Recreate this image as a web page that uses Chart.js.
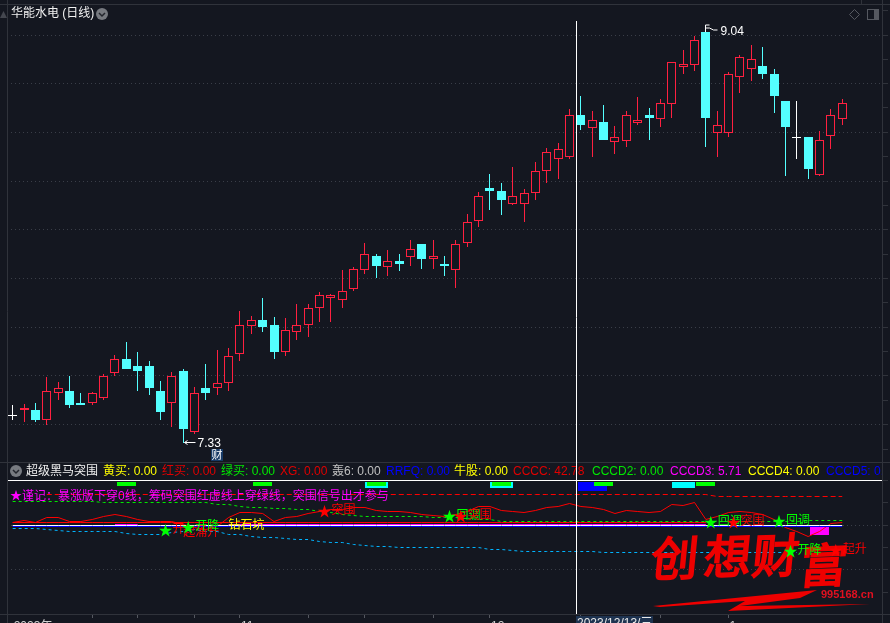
<!DOCTYPE html>
<html>
<head>
<meta charset="utf-8">
<script src="https://cdn.jsdelivr.net/npm/chart.js@4"></script>
<style>
  html, body { margin: 0; padding: 0; background: #141720; overflow: hidden; }
  canvas { display: block; }
</style>
</head>
<body>
<canvas id="chart" width="890" height="623"></canvas>
<script>
// candles, first entry is the white doji at the far left
const opens = [7.446,7.466,7.466,7.424,7.536,7.545,7.496,7.495,7.516,7.620,7.678,7.650,7.650,7.545,7.495,7.629,7.374,7.557,7.557,7.578,7.699,7.818,7.841,7.820,7.707,7.790,7.819,7.890,7.931,7.923,7.971,8.050,8.107,8.063,8.087,8.104,8.157,8.094,8.074,8.050,8.163,8.254,8.390,8.378,8.325,8.325,8.368,8.460,8.509,8.517,8.694,8.641,8.665,8.580,8.587,8.662,8.694,8.678,8.741,8.895,8.903,9.039,8.620,8.620,8.853,8.884,8.897,8.864,8.752,8.601,8.602,8.445,8.608,8.678];
const closes = [7.446,7.474,7.427,7.545,7.557,7.489,7.489,7.536,7.607,7.678,7.639,7.630,7.560,7.460,7.607,7.389,7.536,7.539,7.578,7.690,7.819,7.840,7.812,7.709,7.798,7.819,7.890,7.944,7.944,7.961,8.052,8.114,8.066,8.085,8.074,8.135,8.095,8.106,8.066,8.156,8.247,8.356,8.378,8.340,8.356,8.368,8.460,8.539,8.551,8.694,8.652,8.672,8.590,8.601,8.692,8.672,8.681,8.742,8.913,8.904,9.004,8.681,8.651,8.863,8.934,8.925,8.864,8.773,8.644,8.601,8.469,8.588,8.692,8.742];
const highs = [7.488,7.492,7.496,7.604,7.583,7.608,7.538,7.542,7.617,7.696,7.750,7.708,7.671,7.588,7.625,7.637,7.563,7.658,7.716,7.725,7.879,7.858,7.933,7.854,7.850,7.908,7.908,7.958,7.949,8.049,8.062,8.161,8.116,8.132,8.116,8.174,8.157,8.174,8.107,8.174,8.282,8.373,8.448,8.411,8.477,8.386,8.498,8.556,8.577,8.717,8.773,8.710,8.735,8.648,8.710,8.769,8.723,8.760,8.914,8.964,9.022,9.04,8.710,8.872,8.943,8.985,8.976,8.885,8.752,8.752,8.602,8.627,8.719,8.760];
const lows = [7.426,7.418,7.418,7.406,7.509,7.477,7.489,7.489,7.510,7.608,7.639,7.546,7.529,7.426,7.398,7.33,7.368,7.509,7.529,7.546,7.672,7.784,7.791,7.679,7.692,7.758,7.772,7.834,7.834,7.892,7.962,8.033,8.016,8.024,8.045,8.066,8.053,8.053,8.024,7.974,8.145,8.228,8.299,8.278,8.319,8.249,8.340,8.411,8.428,8.511,8.631,8.519,8.590,8.532,8.561,8.652,8.590,8.644,8.681,8.864,8.877,8.561,8.519,8.602,8.785,8.835,8.843,8.702,8.440,8.511,8.428,8.440,8.552,8.652];

// indicator lines, one value per slot
const curveRed = [5.2,10.3,5.2,17,17.5,7.4,8.1,11.9,20.8,24.2,18.6,14.1,9.6,7.4,7.4,0.7,-6,-10.5,-3.8,16.4,27.6,28.7,26.4,9.6,16.4,20.8,26.4,30.2,34.3,36.5,39.9,40.3,33.2,30.9,29.8,28.2,23.5,21.5,19.7,25.3,30.9,41,42.1,33.2,29.8,28.2,33.2,39.4,41.4,48.8,41.7,39.2,34.3,26.4,33.2,30.9,29.3,30.9,46.6,43.9,51.5,11.9,20.8,27.6,30.5,28.7,23.1,11.9,-6,-12.8,-24,-15,4,5.8];
const dashGreen = [53.3,53.3,53.3,53.3,53.3,53.3,53.3,53.3,50,50,50,50,50,50,50,50,50,50,47.7,45.5,42.1,39.9,38.8,37.6,37.6,36.5,34.3,29.8,27.6,24.2,21.5,20.8,20.4,19.7,19.3,18.6,18.6,17.5,17,16.4,15.2,14.1,11.9,9.6,9,9,9,9,9,9,9,9,9,9,9,9,7.4,7.4,7.4,7.4,7.4,7.4,8.5,8.5,8.5,8.5,8.5,8.5,8.5,8.5,10.3,10.3,10.3,10.3];
const dashCyan = [-6.7,-7.2,-7.6,-8.3,-11.6,-12.8,-12.8,-12.8,-12.8,-15,-18.4,-19.5,-19.5,-19.5,-17.2,-13.9,-10.5,-12.8,-15,-19.5,-21.7,-26.2,-27.3,-28.4,-29.6,-30.7,-32.9,-35.2,-38.1,-39.6,-41.9,-45.2,-47.5,-48.6,-49.3,-49.7,-49.7,-49.7,-49.7,-50.8,-50.8,-50.8,-53.1,-55.3,-56.4,-57.6,-57.6,-57.6,-58.7,-59.1,-59.1,-59.8,-60.9,-61.4,-61.4,-61.4,-61.4,-61.4,-61.4,-61.4,-61.4,-61.4,-61.4,-61.4,-61.4,-61.4,-61.4,-61.4,-61.4,-61.4];
const dashRed = [null,null,null,67.9,67.9,67.9,67.9,67.9,67.9,67.9,67.9,67.9,67.9,67.9,67.9,67.9,67.9,67.9,67.9,67.9,67.9,67.9,67.9,67.9,67.9,67.9,67.9,67.9,67.9,67.9,67.9,67.9,67.9,67.9,67.9,67.9,67.9,67.9,67.9,67.9,67.9,67.9,67.9,67.9,67.9,67.9,67.9,67.9,67.9,67.9,67.9,67.9,67.9,67.9,67.9,67.9,67.9,67.9,67.9,67.9,67.9,67.9,65.6,65.6,65.6,65.6,65.6,65.6,65.6,64.5,64,64,64,65];
const flatRed = [5.8,5.8,5.8,5.8,5.8,5.8,5.8,5.8,5.8,5.8,5.8,5.8,5.8,5.8,5.8,5.8,5.8,5.8,5.8,5.8,5.8,5.8,5.8,5.8,5.8,5.8,5.8,5.8,5.8,5.8,5.8,5.8,5.8,5.8,5.8,5.8,5.8,5.8,5.8,5.8,5.8,5.8,5.8,5.8,5.8,5.8,5.8,5.8,5.8,5.8,5.8,5.8,5.8,5.8,5.8,5.8,5.8,5.8,5.8,5.8,5.8,5.8];
const flatMagenta = [null,null,null,null,null,null,null,null,null,2.9,2.9,2.9,null,null,null,null,null,null,null,2.9,2.9,2.9,2.9,2.9,2.9,2.9,2.9,2.9,2.9,2.9,2.9,2.9,2.9,2.9,2.9,2.9,2.9,2.9,2.9,2.9,2.9,2.9,2.9,2.9,2.9,2.9,2.9,2.9,2.9,2.9,2.9,2.9,2.9,2.9,2.9,2.9,2.9,2.9,2.9,2.9,2.9,2.9];
const flatWhite = [0,0,0,0,0,0,0,0,0,0,0,0,0,0,0,0,0,0,0,0,0,0,0,0,0,0,0,0,0,0,0,0,0,0,0,0,0,0,0,0,0,0,0,0,0,0,0,0,0,0,0,0,0,0,0,0,0,0,0,0,0,0,0,0,0,0,0,0,0,0,0,0,0,0];
const flatBlue = [-2.7,-2.7,-2.7,-2.7,-2.7,-2.7,-2.7,-2.7,-2.7,-2.7,-2.7,-2.7,-2.7,-2.7,-2.7,-2.7,-2.7,-2.7,-2.7,-2.7,-2.7,-2.7,-2.7,-2.7,-2.7,-2.7,-2.7,-2.7,-2.7,-2.7,-2.7,-2.7,-2.7,-2.7,-2.7,-2.7,-2.7,-2.7,-2.7,-2.7,-2.7,-2.7,-2.7,-2.7,-2.7,-2.7,-2.7,-2.7,-2.7,-2.7,-2.7,-2.7,-2.7,-2.7,-2.7,-2.7,-2.7,-2.7,-2.7,-2.7,-2.7,-2.7,-2.7,-2.7,-2.7,-2.7,-2.7,-2.7,-2.7,-2.7,-2.7,-2.7,-2.7,-2.7];

// signal tags along the top of the sub panel
const greenTagSlots = [10, 22, 32, 43, 52, 61];
const greenTagRange = [97, 88.7];
const cyanTagSlots = [32, 43, 59];
const cyanTagRange = [97, 84.2];
const blueTagSlots = [51];
const blueTagRange = [97, 77.5];
const magentaTagSlots = [71];
const magentaTagRange = [-3.8, -21.7];

// star labels in the sub panel
const signalSlots = [13, 15, 15, 19, 27, 38, 39, 61, 63, 67, 68, 72];
const signalValues = [-10.5, -17.2, -3.8, -1.6, 32, 20.8, 20.8, 8.1, 8.1, 10.8, -56.9, -55.3];
const signalStars = ['#00ff00', null, '#00ff00', null, '#ff0000', '#00ff00', '#ff0000', '#00ff00', '#ff0000', '#00ff00', '#00ff00', '#ff0000'];
const signalTexts = ['开', '起涌升', '开降', '钻石坑', '突围', '回调', '突围', '回调', '突围', '回调', '开降', '起升'];
const signalColors = ['#ff0000', '#ff0000', '#00ff00', '#ffff00', '#ff0000', '#00ff00', '#ff0000', '#00ff00', '#ff0000', '#00ff00', '#00ff00', '#ff0000'];

// header row of the sub panel
const headerTexts = ['黄买: 0.00', '红买: 0.00', '绿买: 0.00', 'XG: 0.00', '轰6: 0.00', 'RRFQ: 0.00', '牛股: 0.00', 'CCCC: 42.78', 'CCCD2: 0.00', 'CCCD3: 5.71', 'CCCD4: 0.00', 'CCCD5: 0.00'];
const headerColors = ['#ffff00', '#e00000', '#00e800', '#e00000', '#c0c0c0', '#0000ff', '#ffff00', '#e00000', '#00e800', '#ff00ff', '#ffff00', '#0000ff'];
const headerStarts = [103, 162, 221, 280, 332, 386, 454, 513, 592, 670, 748, 826];

// axes
const slotCount = 77;
const monthTicks = { 0: '2023年', 20: '11', 42: '12', 63: '1' };
const xTickSlots = [7, 11, 16, 20, 26, 31, 37, 42, 50, 57, 63];
const priceTicks = [9.127, 9.026, 8.925, 8.824, 8.723, 8.621, 8.520, 8.419, 8.318, 8.216, 8.115, 8.014, 7.913, 7.811, 7.710, 7.609, 7.508, 7.406, 7.305];
const priceGrid = [9.026, 8.824, 8.621, 8.419, 8.216, 8.014, 7.811, 7.609, 7.406];
const subTicks = [100, 50, 0, -50, -100, -150];
const subGrid = [0, -100];
const cursorSlot = 49.63;
const cursorLabel = '2023/12/13/三';

const RED = '#ff2040';
const CYAN = '#54ffff';
const BG = '#141720';
const FRAME = '#30333b';
const GRID = '#3a3e48';
const FONT = '"Liberation Sans","Noto Sans CJK SC",sans-serif';

const slots = Array.from({ length: slotCount }, (_, s) => s);
const candleColor = (i) => (opens[i] === closes[i] ? '#ffffff' : closes[i] > opens[i] ? RED : CYAN);
const tagData = (tagSlots, range) => slots.map((s) => (tagSlots.includes(s) ? range : null));

function lineSet(data, color, dash, order) {
    return {
        type: 'line',
        data,
        yAxisID: 'y2',
        borderColor: color,
        borderWidth: 1,
        borderDash: dash,
        pointRadius: 0,
        fill: false,
        order,
    };
}

function tagSet(tagSlots, range, color, width, order) {
    return {
        data: tagData(tagSlots, range),
        yAxisID: 'y2',
        grouped: false,
        barThickness: width,
        backgroundColor: color,
        borderWidth: 0,
        inflateAmount: 0,
        order,
    };
}

// pixel snap so the candles stay crisp like the terminal's drawing
const snapPlugin = {
    id: 'snap',
    beforeDatasetsDraw(chart) {
        chart.getSortedVisibleDatasetMetas().forEach((meta) => {
            meta.data.forEach((el) => {
                if (meta.type === 'bar') {
                    if (el.skip || isNaN(el.y)) return;
                    el.x = Math.floor(el.x) + 0.5;
                    const top = Math.round(Math.min(el.y, el.base));
                    let bottom = Math.round(Math.max(el.y, el.base));
                    if (bottom === top) bottom = top + 1;
                    el.y = top;
                    el.base = bottom;
                } else if (!el.skip) {
                    el.y = Math.floor(el.y) + 0.5;
                }
            });
        });
    },
};

function hline(ctx, x1, x2, y, color) {
    ctx.strokeStyle = color;
    ctx.lineWidth = 1;
    ctx.beginPath();
    ctx.moveTo(x1, y + 0.5);
    ctx.lineTo(x2, y + 0.5);
    ctx.stroke();
}

function vline(ctx, x, y1, y2, color) {
    ctx.strokeStyle = color;
    ctx.lineWidth = 1;
    ctx.beginPath();
    ctx.moveTo(x + 0.5, y1);
    ctx.lineTo(x + 0.5, y2);
    ctx.stroke();
}

function chevron(ctx, x, y) {
    ctx.fillStyle = '#777a80';
    ctx.beginPath();
    ctx.arc(x, y, 6, 0, Math.PI * 2);
    ctx.fill();
    ctx.strokeStyle = '#22252c';
    ctx.lineWidth = 1.5;
    ctx.beginPath();
    ctx.moveTo(x - 3, y - 1);
    ctx.lineTo(x, y + 2);
    ctx.lineTo(x + 3, y - 1);
    ctx.stroke();
}

function label(ctx, text, x, y, color, font) {
    ctx.font = font || '12px ' + FONT;
    ctx.fillStyle = color;
    ctx.textAlign = 'left';
    ctx.textBaseline = 'middle';
    ctx.fillText(text, x, y);
}

const decorPlugin = {
    id: 'decor',
    beforeDatasetsDraw(chart) {
        const ctx = chart.ctx;
        ctx.save();
        hline(ctx, 0, 890, 4, FRAME);
        hline(ctx, 0, 890, 462, FRAME);
        hline(ctx, 0, 890, 614, FRAME);
        vline(ctx, 7, 0, 623, FRAME);
        vline(ctx, 861, 0, 4, FRAME);
        vline(ctx, 882, 0, 623, FRAME);
        ctx.restore();
    },
    afterDatasetsDraw(chart) {
        const ctx = chart.ctx;
        const { x, y, y2 } = chart.scales;
        ctx.save();

        // watermark
        ctx.fillStyle = '#ee0000';
        ctx.strokeStyle = '#ee0000';
        ctx.lineWidth = 2;
        ctx.font = '47px "Noto Sans CJK SC"';
        ctx.textAlign = 'center';
        ctx.textBaseline = 'middle';
        [['创', 675, 558], ['想', 728, 556], ['财', 776, 555], ['富', 824, 565]].forEach(([c, cx, cy]) => {
            ctx.save();
            ctx.transform(1, -0.04, -0.1, 1, cx, cy);
            ctx.fillText(c, 0, 0);
            ctx.strokeText(c, 0, 0);
            ctx.restore();
        });
        ctx.beginPath();
        ctx.moveTo(653, 606);
        ctx.lineTo(817, 590);
        ctx.lineTo(800, 598);
        ctx.lineTo(740, 606);
        ctx.lineTo(870, 604);
        ctx.lineTo(728, 611);
        ctx.lineTo(745, 601);
        ctx.lineTo(660, 607);
        ctx.closePath();
        ctx.fill();
        label(ctx, '995168.cn', 821, 595, '#e01020', 'bold 11px "Liberation Sans"');

        // star labels
        signalSlots.forEach((s, i) => {
            const px = x.getPixelForValue(s);
            const py = y2.getPixelForValue(signalValues[i]);
            if (signalStars[i]) {
                label(ctx, '★', px - 2, py, signalStars[i], '14px "Noto Sans CJK SC"');
                label(ctx, signalTexts[i], px + 12, py, signalColors[i]);
            } else {
                label(ctx, signalTexts[i], px, py, signalColors[i]);
            }
        });
        label(ctx, '★谨记：暴涨版下穿0线，筹码突围红虚线上穿绿线，突围信号出才参与', 10, 497, '#ff00ff');

        // header rows
        hline(ctx, 8, 882, 480, '#ffffff');
        label(ctx, '华能水电 (日线)', 11, 14, '#f0f0f0');
        chevron(ctx, 102, 14);
        chevron(ctx, 16, 471);
        label(ctx, '超级黑马突围', 26, 472, '#f0f0f0');
        ctx.save();
        ctx.beginPath();
        ctx.rect(8, 463, 874, 16);
        ctx.clip();
        headerTexts.forEach((t, i) => label(ctx, t, headerStarts[i], 472, headerColors[i]));
        ctx.restore();

        // corner buttons
        ctx.strokeStyle = '#555860';
        ctx.lineWidth = 1;
        ctx.beginPath();
        ctx.moveTo(854.5, 9.5);
        ctx.lineTo(859.5, 14.5);
        ctx.lineTo(854.5, 19.5);
        ctx.lineTo(849.5, 14.5);
        ctx.closePath();
        ctx.stroke();
        ctx.strokeRect(867.5, 9.5, 11, 10);
        ctx.fillStyle = '#555860';
        ctx.fillRect(874, 10, 4, 9);
        ctx.fillStyle = '#44474f';
        ctx.beginPath();
        ctx.moveTo(0, 18);
        ctx.lineTo(3.5, 11);
        ctx.lineTo(7, 18);
        ctx.closePath();
        ctx.fill();

        // high and low marks
        const hx = Math.floor(x.getPixelForValue(61)) + 0.5;
        const hy = Math.round(y.getPixelForValue(9.04));
        ctx.strokeStyle = '#ffffff';
        ctx.lineWidth = 1;
        ctx.beginPath();
        ctx.moveTo(hx, hy - 7);
        ctx.lineTo(hx, hy);
        ctx.moveTo(hx, hy - 7);
        ctx.lineTo(hx + 4, hy - 7);
        ctx.moveTo(hx, hy - 4);
        ctx.lineTo(hx + 4, hy - 4);
        ctx.lineTo(hx + 8, hy - 2);
        ctx.lineTo(hx + 12, hy - 2);
        ctx.stroke();
        label(ctx, '9.04', hx + 15, hy, '#ffffff');

        const lx = Math.floor(x.getPixelForValue(15)) + 0.5;
        const ly = Math.round(y.getPixelForValue(7.33)) - 1 + 0.5;
        ctx.beginPath();
        ctx.moveTo(lx + 1, ly);
        ctx.lineTo(lx + 12, ly);
        ctx.moveTo(lx + 4, ly - 2);
        ctx.lineTo(lx + 1, ly);
        ctx.lineTo(lx + 4, ly + 2);
        ctx.stroke();
        label(ctx, '7.33', lx + 14, ly + 1, '#ffffff');

        ctx.fillStyle = '#173a66';
        ctx.fillRect(211, 449, 12, 12);
        ctx.font = '11px "Noto Sans CJK SC"';
        ctx.textAlign = 'center';
        ctx.fillStyle = '#ffffff';
        ctx.fillText('财', 217, 455);

        // cursor
        const cx = Math.floor(x.getPixelForValue(cursorSlot));
        vline(ctx, cx, 21, 614, '#ffffff');
        ctx.fillStyle = '#1e3350';
        ctx.fillRect(cx, 616, 77, 8);
        ctx.font = '12px ' + FONT;
        ctx.fillStyle = '#e8e8e8';
        ctx.textAlign = 'left';
        ctx.textBaseline = 'top';
        ctx.fillText(cursorLabel, cx + 1, 618);
        ctx.restore();
    },
};

new Chart(document.getElementById('chart'), {
    type: 'bar',
    data: {
        labels: slots,
        datasets: [
            {
                data: opens.map((o, i) => [o, closes[i]]),
                yAxisID: 'y',
                grouped: false,
                barThickness: 9,
                backgroundColor: opens.map((o, i) => (closes[i] > o ? BG : candleColor(i))),
                borderColor: opens.map((o, i) => candleColor(i)),
                borderWidth: 1,
                borderSkipped: false,
                inflateAmount: 0,
                order: 1,
            },
            {
                data: lows.map((l, i) => [l, highs[i]]),
                yAxisID: 'y',
                grouped: false,
                barThickness: 1,
                backgroundColor: opens.map((o, i) => candleColor(i)),
                borderWidth: 0,
                inflateAmount: 0,
                order: 2,
            },
            lineSet(flatBlue, '#0000ff', [], 12),
            lineSet(flatWhite, '#ffffff', [], 11),
            lineSet(flatMagenta, '#ff00ff', [], 13),
            lineSet(flatRed, '#ff0000', [], 14),
            lineSet(curveRed, '#ff0000', [], 15),
            lineSet(dashGreen, '#00e800', [3, 3], 16),
            lineSet(dashRed, '#ff0000', [5, 3], 17),
            lineSet(dashCyan, '#00b4ff', [3, 3], 18),
            tagSet(greenTagSlots, greenTagRange, '#00ff00', 19, 20),
            tagSet(cyanTagSlots, cyanTagRange, '#00ffff', 23, 21),
            tagSet(blueTagSlots, blueTagRange, '#0000ff', 29, 22),
            tagSet(magentaTagSlots, magentaTagRange, '#ff00ff', 19, 23),
        ],
    },
    options: {
        responsive: false,
        animation: false,
        devicePixelRatio: 1,
        layout: { padding: { left: 7, top: 4, right: 0, bottom: 0 } },
        plugins: { legend: { display: false }, tooltip: { enabled: false }, title: { display: false } },
        scales: {
            x: {
                type: 'category',
                offset: true,
                afterFit: (s) => { s.height = 9; },
                border: { color: FRAME },
                grid: {
                    offset: false,
                    drawOnChartArea: false,
                    tickLength: 4,
                    tickColor: (c) => (xTickSlots.includes(c.index) ? '#555860' : 'transparent'),
                },
                ticks: {
                    autoSkip: false,
                    maxRotation: 0,
                    padding: 1,
                    align: 'start',
                    labelOffset: 1,
                    color: '#d0d0d0',
                    font: { family: FONT, size: 12 },
                    callback: (v) => monthTicks[v] || '',
                },
            },
            y: {
                position: 'right',
                stack: 'panels',
                stackWeight: 458,
                min: 7.251,
                max: 9.155,
                afterBuildTicks: (s) => { s.ticks = priceTicks.map((value) => ({ value })); },
                afterFit: (s) => { s.width = 8; },
                border: { color: FRAME, dash: [1, 3] },
                grid: {
                    tickLength: 6,
                    tickColor: FRAME,
                    tickBorderDash: [],
                    color: (c) => (c.tick && priceGrid.includes(c.tick.value) ? GRID : 'transparent'),
                },
                ticks: { display: false },
            },
            y2: {
                position: 'right',
                stack: 'panels',
                stackWeight: 152,
                min: -198.7,
                max: 141.8,
                afterBuildTicks: (s) => { s.ticks = subTicks.map((value) => ({ value })); },
                afterFit: (s) => { s.width = 8; },
                border: { color: FRAME, dash: [1, 3] },
                grid: {
                    tickLength: 6,
                    tickColor: FRAME,
                    tickBorderDash: [],
                    color: (c) => (c.tick && subGrid.includes(c.tick.value) ? GRID : 'transparent'),
                },
                ticks: { display: false },
            },
        },
    },
    plugins: [snapPlugin, decorPlugin],
});
</script>
</body>
</html>
